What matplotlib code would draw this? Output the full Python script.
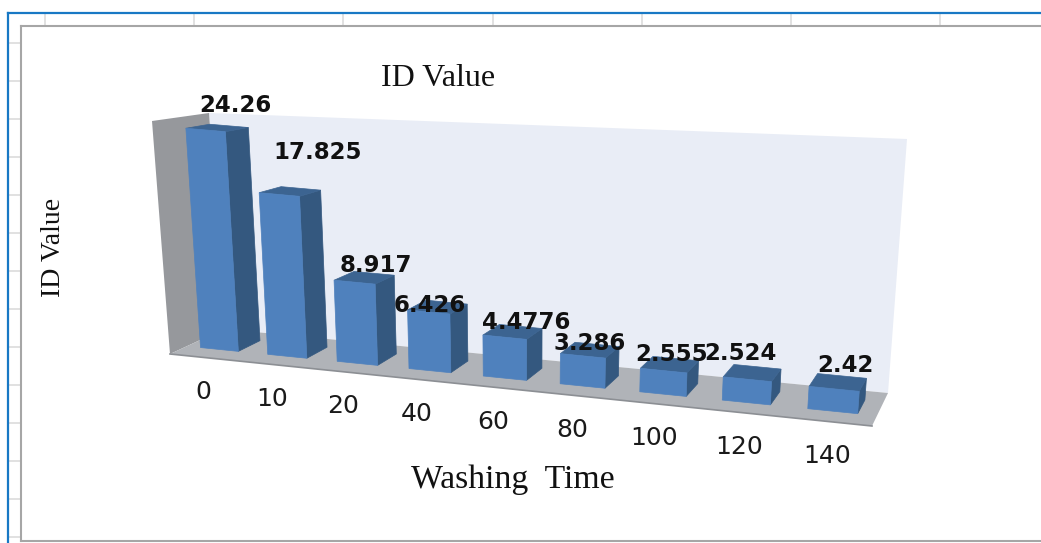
import numpy as np
import matplotlib
matplotlib.use("Agg")
import matplotlib.pyplot as plt

# values
washing_time = [0, 10, 20, 40, 60, 80, 100, 120, 140]
id_value = [24.26, 17.825, 8.917, 6.426, 4.4776, 3.286, 2.555, 2.524, 2.42]
value_labels = ["24.26", "17.825", "8.917", "6.426", "4.4776", "3.286", "2.555", "2.524", "2.42"]

# hand placed label offsets from the front top of each bar (pixels)
label_dx = [30, 38, 21, 1, 22, 7, 8, -7, 11]
label_dy = [-24, -42, -17, -6, -15, -12, -16, -26, -23]

W, H = 1041, 543

# scene corners in pixels
floor_quad = [(170, 354), (872, 426), (888, 393), (224, 329)]
side_wall = [(152, 121), (209, 113), (224, 329), (170, 354)]
back_wall = [(209, 113), (907, 139), (888, 393), (224, 329)]
vanish = np.array([526.0, 5217.0])

FRONT = "#4f81bd"
SIDE = "#34587f"
TOP = "#3c6491"


def floor_matrix(quad):
    """homography from the unit square to the floor corners"""
    src = [(0, 0), (1, 0), (1, 1), (0, 1)]
    rows = []
    rhs = []
    for (a, b), (x, y) in zip(src, quad):
        rows.append([a, b, 1, 0, 0, 0, -a * x, -b * x])
        rows.append([0, 0, 0, a, b, 1, -a * y, -b * y])
        rhs += [x, y]
    sol = np.linalg.solve(np.array(rows, float), np.array(rhs, float))
    return np.append(sol, 1).reshape(3, 3)


M = floor_matrix(floor_quad)


def widen(t):
    # categories get wider to the right
    return -0.001 + 0.977 * t + 0.024 * t ** 2


def project(t, v, z=0.0):
    """t along categories, v depth, z the value"""
    s = widen(t)
    p = M @ np.array([s, v, 1.0])
    base = p[:2] / p[2]
    up = (base - vanish) / np.linalg.norm(base - vanish)
    scale = (9.25 + 0.2 * s) * (1 - 0.07 * v)
    return base + up * z * scale


fig = plt.figure(figsize=(W / 100, H / 100), dpi=100)
ax = fig.add_axes([0, 0, 1, 1])
ax.set_xlim(0, W)
ax.set_ylim(H, 0)
ax.axis("off")

# spreadsheet behind the chart
for x in np.arange(45, W, 149.2):
    ax.plot([x, x], [13, 26], color="#dcdcdc", lw=1.2)
for y in np.arange(43, H, 38):
    ax.plot([8, 21], [y, y], color="#dcdcdc", lw=1.2)
ax.plot([8, W], [13, 13], color="#1878c4", lw=1.6)
ax.plot([8, 8], [13, H], color="#1878c4", lw=1.6)
ax.plot([21, W], [26, 26], color="#a6a6a6", lw=1.5)
ax.plot([21, 21], [26, 541], color="#a6a6a6", lw=1.5)
ax.plot([21, W], [541, 541], color="#a6a6a6", lw=1.5)

# walls and floor
ax.fill(*zip(*back_wall), color="#e9edf6", lw=0)
ax.fill(*zip(*side_wall), color="#96989c", lw=0)
ax.fill(*zip(*floor_quad), color="#b0b3b8", lw=0)
ax.plot(*zip(floor_quad[0], floor_quad[1]), color="#8c8f94", lw=1.2)

# bars
n = len(id_value)
half = 0.0315
v0, v1 = 0.30, 0.72
tops = []
for i, val in enumerate(id_value):
    tc = (i + 0.5) / n
    a, b = tc - half, tc + half
    fl, fr = project(a, v0), project(b, v0)
    br = project(b, v1)
    tfl, tfr = project(a, v0, val), project(b, v0, val)
    tbl, tbr = project(a, v1, val), project(b, v1, val)
    for pts, col in [([fr, br, tbr, tfr], SIDE),
                     ([tfl, tfr, tbr, tbl], TOP),
                     ([fl, fr, tfr, tfl], FRONT)]:
        ax.fill(*zip(*pts), facecolor=col, edgecolor=col, lw=0.5, zorder=3 + i)
    tops.append(project(tc, v0, val))

    # category label under the floor
    bx, by = project(tc, 0)
    ax.text(bx, by + 34.5, str(washing_time[i]), ha="center", va="center",
            fontsize=18, family="DejaVu Sans", color="#1a1a1a", zorder=20)

for i, txt in enumerate(value_labels):
    ax.text(tops[i][0] + label_dx[i], tops[i][1] + label_dy[i], txt, ha="center", va="center",
            fontsize=16.5, fontweight="bold", family="DejaVu Sans", color="#111111", zorder=30)

ax.text(438, 78, "ID Value", ha="center", va="center", fontsize=23,
        family="Liberation Serif", color="#111111")
ax.text(513, 480, "Washing  Time", ha="center", va="center", fontsize=24.3,
        family="Liberation Serif", color="#111111")
ax.text(54, 247, "ID Value", ha="center", va="center", rotation=90, fontsize=20,
        family="Liberation Serif", color="#111111")

fig.savefig("out.png", dpi=100)
